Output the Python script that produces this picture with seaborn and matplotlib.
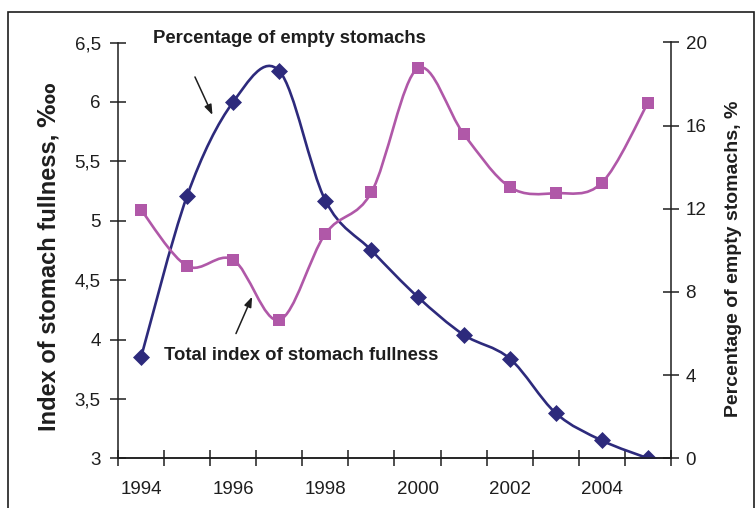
import numpy as np
import pandas as pd
import matplotlib
matplotlib.use("Agg")
import matplotlib.pyplot as plt
from matplotlib.path import Path
from matplotlib.patches import PathPatch, Rectangle
from matplotlib.ticker import FixedLocator, FuncFormatter
import seaborn as sns

# ---- data ----
years = [1994, 1995, 1996, 1997, 1998, 1999, 2000, 2001, 2002, 2003, 2004, 2005]
index_fullness = [3.85, 5.21, 6.00, 6.26, 5.17, 4.75, 4.36, 4.04, 3.84, 3.38, 3.15, 3.00]
pct_empty = [11.95, 9.25, 9.55, 6.65, 10.8, 12.8, 18.75, 15.6, 13.05, 12.75, 13.25, 17.1]
year_labels = ["1994", "", "1996", "", "1998", "", "2000", "", "2002", "", "2004", ""]
left_ticks = [3, 3.5, 4, 4.5, 5, 5.5, 6, 6.5]
right_ticks = [0, 4, 8, 12, 16, 20]

BLUE = "#2d2a7c"
PINK = "#b058a8"
TXT = "#1e1e1e"

sns.set_theme(style="white")
plt.rcParams["font.family"] = ["Liberation Sans", "DejaVu Sans"]

fig = plt.figure(figsize=(7.55, 5.08), dpi=100)
ax = fig.add_axes([118/755, 1-458.3/508, (671-118)/755, (458.3-42.5)/508])
ax2 = ax.twinx()

def smooth_path(xs, ys):
    """Excel-style smoothed line as cubic Bezier path (control points from neighbours)."""
    p = np.column_stack([xs, ys]).astype(float)
    n = len(p)
    verts = [p[0]]
    codes = [Path.MOVETO]
    for i in range(n - 1):
        p0 = p[i - 1] if i > 0 else p[i]
        p1, p2 = p[i], p[i + 1]
        p3 = p[i + 2] if i + 2 < n else p[i + 1]
        c1 = p1 + (p2 - p0) / 6.0
        c2 = p2 - (p3 - p1) / 6.0
        verts += [c1, c2, p2]
        codes += [Path.CURVE4] * 3
    return Path(verts, codes)

df = pd.DataFrame({"year": years, "index": index_fullness, "pct": pct_empty})

ax.add_patch(PathPatch(smooth_path(df["year"], df["index"]), facecolor="none",
                       edgecolor=BLUE, lw=1.9, zorder=3))
sns.scatterplot(data=df, x="year", y="index", ax=ax, marker="D", s=75,
                color=BLUE, edgecolor=BLUE, linewidth=0, zorder=4, legend=False)

ax2.add_patch(PathPatch(smooth_path(df["year"], df["pct"]), facecolor="none",
                        edgecolor=PINK, lw=1.9, zorder=3))
sns.scatterplot(data=df, x="year", y="pct", ax=ax2, marker="s", s=80,
                color=PINK, edgecolor=PINK, linewidth=0, zorder=4, legend=False)

# axes limits / ticks
ax.set_xlim(1993.5, 2005.5)
ax.set_ylim(3, 6.5)
ax2.set_ylim(0, 20)

ax.xaxis.set_major_locator(FixedLocator(years))
ax.set_xticklabels(year_labels)
ax.xaxis.set_minor_locator(FixedLocator([y - 0.5 for y in years] + [years[-1] + 0.5]))
ax.tick_params(axis="x", which="major", length=0, pad=16, labelsize=13.5, colors=TXT)
ax.tick_params(axis="x", which="minor", length=11, direction="inout", width=1.1,
               color=TXT, bottom=True)

ax.yaxis.set_major_locator(FixedLocator(left_ticks))
ax.yaxis.set_major_formatter(FuncFormatter(lambda v, p: (f"{v:g}").replace(".", ",")))
ax.tick_params(axis="y", length=11, direction="inout", width=1.1, pad=7,
               labelsize=13.5, colors=TXT, left=True)

ax2.yaxis.set_major_locator(FixedLocator(right_ticks))
ax2.tick_params(axis="y", length=11, direction="inout", width=1.1, pad=5,
                labelsize=13.5, colors=TXT, right=True)

for a in (ax, ax2):
    a.spines["top"].set_visible(False)
    for s in ("left", "right", "bottom"):
        a.spines[s].set_color(TXT)
        a.spines[s].set_linewidth(1.1)
    a.grid(False)
    a.set_xlabel("")
ax2.spines["left"].set_visible(False)
ax.spines["right"].set_visible(False)

ax.set_ylabel("Index of stomach fullness, \u2031", fontsize=17, fontweight="bold",
              color=TXT, labelpad=10)
ax.yaxis.label.set_y(0.485)
ax2.set_ylabel("Percentage of empty stomachs, %", fontsize=14, fontweight="bold",
               color=TXT, labelpad=13)
ax2.yaxis.label.set_y(0.48)

# annotations
ax.text(1997.23, 6.53, "Percentage of empty stomachs", ha="center", va="center",
        fontsize=13.3, fontweight="bold", color=TXT)
ax.annotate("", xy=(1995.55, 5.89), xytext=(1995.17, 6.21),
            arrowprops=dict(arrowstyle="-|>,head_length=0.6,head_width=0.22",
                            color=TXT, lw=1.1, mutation_scale=10,
                            shrinkA=0, shrinkB=0))
ax.text(1997.48, 3.862, "Total index of stomach fullness", ha="center", va="center",
        fontsize=13.3, fontweight="bold", color=TXT)
ax.annotate("", xy=(1996.41, 4.36), xytext=(1996.06, 4.05),
            arrowprops=dict(arrowstyle="-|>,head_length=0.6,head_width=0.22",
                            color=TXT, lw=1.1, mutation_scale=10,
                            shrinkA=0, shrinkB=0))

# outer frame
fig.patches.append(Rectangle((8/755, -0.1), (753.5-8)/755, 1.1 - 12/508,
                             transform=fig.transFigure, fill=False,
                             edgecolor=TXT, lw=1.2))

fig.savefig("out.png", dpi=100)
